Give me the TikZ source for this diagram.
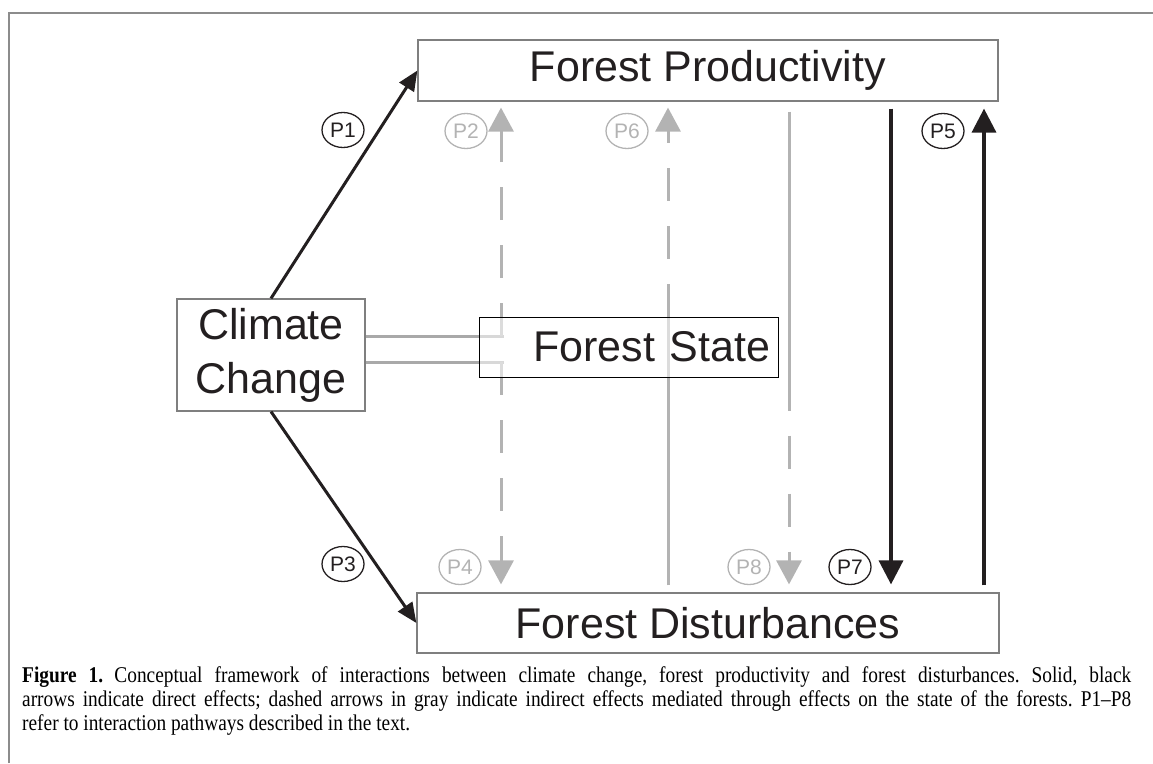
\documentclass[tikz,border=0pt]{standalone}
\usepackage{fontspec}
\setmainfont{Liberation Serif}
\setsansfont{Liberation Sans}
\newfontfamily\capfont[FakeStretch=0.86, Ligatures=TeX]{Liberation Serif}
\usetikzlibrary{arrows.meta, shapes.geometric, backgrounds, positioning}
\definecolor{framegray}{HTML}{8C8C8C}
\definecolor{boxgray}{HTML}{7F7F7F}
\definecolor{lightline}{HTML}{B3B3B3}
\definecolor{dblgray}{HTML}{A9A9A9}
\definecolor{darkline}{HTML}{231F20}

\begin{document}
\begin{tikzpicture}[x=1pt, y=-1pt,
    box/.style={draw=boxgray, line width=1.2pt, inner sep=0pt, text=darkline,
      font=\sffamily\fontsize{43}{54}\selectfont},
    plabel/.style={ellipse, draw=darkline, line width=1.3pt, minimum width=42pt,
      minimum height=35pt, inner sep=0pt, text=darkline, font=\sffamily\fontsize{21}{21}\selectfont},
    glabel/.style={plabel, draw=lightline, text=lightline},
    direct/.style={darkline, line width=3pt, -{Triangle[length=20pt,width=17pt]}},
    directbig/.style={darkline, line width=3.5pt, -{Triangle[length=24pt,width=24pt]}},
    indirect/.style={lightline, line width=3pt},
    dashline/.style={indirect, dash pattern=on 33pt off 25pt},
    gtip/.style={-{Triangle[length=24pt,width=25pt]}},
  ]
  \useasboundingbox (0,0) rectangle (1153,763);
  \draw [framegray, line width=2.5pt] (9,763) -- (9,13) -- (1153,13); % frame

  \node [box, minimum width=580pt, minimum height=61pt] (prod) at (708,70.5) {Forest Productivity};
  \node [box, minimum width=188pt, minimum height=112pt, align=center] (clim) at (271,355) {Climate\\Change};
  \node [box, minimum width=582pt, minimum height=60pt] (dist) at (708,623) {Forest Disturbances};
  \node [box, draw=black, line width=1pt, fill=white, fill opacity=0.55, text opacity=1,
    minimum width=299pt, minimum height=60pt, text width=283pt, align=right] (state) at (628.5,347) {Forest State};

  \coordinate (s2) at (501,336);
  \coordinate (s4) at (501,362);
  \coordinate (xb) at (668,0);
  \coordinate (xc) at (789,0);
  \coordinate (xd) at (891,0);
  \coordinate (xe) at (984,0);

  \begin{scope}[on background layer]
    \draw [indirect, dblgray] (clim.east |- s2) -- ++(138,0);
    \draw [indirect, dblgray] (clim.east |- s4) -- ++(138,0);

    \draw [dashline, gtip, shorten >=6pt] (s2) -- (s2 |- prod.south);
    \draw [dashline, gtip, shorten >=8pt] (s4) -- (s4 |- dist.north);

    \draw [indirect, shorten <=7pt] (xb |- dist.north) -- (xb |- state.north);
    \draw [dashline, gtip, shorten >=6pt] (xb |- state.north) -- (xb |- prod.south);

    \draw [indirect, shorten <=10pt] (xc |- prod.south) -- (xc |- state.south);
    \draw [dashline, gtip, shorten >=8pt] (xc |- state.south) -- (xc |- dist.north);
  \end{scope}

  \draw [direct] (clim.north) -- (prod.west);
  \draw [direct] (clim.south) -- (dist.west);
  \draw [directbig, shorten <=7pt, shorten >=8pt] (xd |- prod.south) -- (xd |- dist.north);
  \draw [directbig, shorten <=7pt, shorten >=7pt] (xe |- dist.north) -- (xe |- prod.south);

  \node [plabel] (lp1) at (343,130) {P1};
  \node [plabel] (lp3) at (343,564) {P3};
  \node [glabel] (lp2) at (466,131) {P2};
  \node [glabel] (lp6) at (627,131) {P6};
  \node [plabel] (lp5) at (943,131) {P5};
  \node [glabel] (lp4) at (460,567) {P4};
  \node [glabel] (lp8) at (749,567) {P8};
  \node [plabel] (lp7) at (850,567) {P7};

  \node [anchor=north west, inner sep=0pt, text width=1109pt, align=justify, text=black,
    font=\capfont\fontsize{22.5}{24}\selectfont\frenchspacing] (caption) at (22,666)
    {\textbf{Figure 1.}\enskip Conceptual framework of interactions between climate change, forest productivity and forest disturbances. Solid, black\linebreak
     arrows indicate direct effects; dashed arrows in gray indicate indirect effects mediated through effects on the state of the forests. P1–P8\linebreak
     refer to interaction pathways described in the text.};
\end{tikzpicture}
\end{document}
